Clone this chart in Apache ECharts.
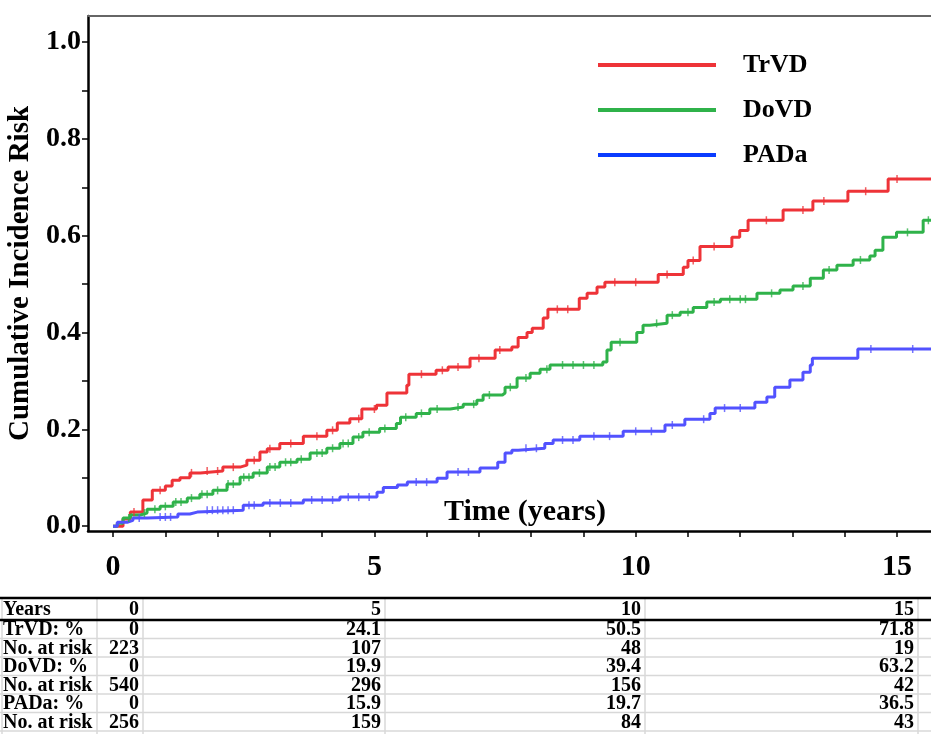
<!DOCTYPE html>
<html>
<head>
<meta charset="utf-8">
<script src="https://cdn.jsdelivr.net/npm/echarts@6/dist/echarts.min.js"></script>
<style>
html,body{margin:0;padding:0;background:#fff;}
#chart{width:931px;height:734px;}
</style>
</head>
<body>
<div id="chart"></div>
<script>
// ---------- data ----------
const seriesNames = ['TrVD', 'DoVD', 'PADa'];

const trvdT = [0, 0.19, 0.33, 0.57, 0.75, 1.0, 1.13, 1.28, 1.47, 1.67, 2.1, 2.43, 2.56, 2.81, 2.95, 3.19, 3.64, 4.09, 4.29, 4.53, 4.76, 5.04, 5.24, 5.62, 5.66, 6.18, 6.41, 6.83, 7.31, 7.63, 7.75, 7.92, 8.02, 8.23, 8.32, 8.92, 9.07, 9.26, 9.41, 10.43, 10.91, 11.0, 11.23, 11.84, 11.99, 12.15, 12.82, 13.39, 14.06, 14.83, 15.65];
const trvdY = [0, 0.015, 0.029, 0.054, 0.074, 0.083, 0.095, 0.100, 0.110, 0.114, 0.122, 0.126, 0.136, 0.153, 0.160, 0.171, 0.186, 0.198, 0.213, 0.222, 0.242, 0.250, 0.275, 0.291, 0.314, 0.322, 0.329, 0.347, 0.364, 0.370, 0.390, 0.400, 0.409, 0.430, 0.448, 0.471, 0.481, 0.494, 0.504, 0.520, 0.535, 0.549, 0.578, 0.597, 0.611, 0.632, 0.653, 0.672, 0.692, 0.717, 0.717];

const dovdT = [0, 0.08, 0.19, 0.33, 0.52, 0.65, 0.9, 1.15, 1.42, 1.66, 1.91, 2.18, 2.43, 2.68, 2.95, 3.19, 3.52, 3.77, 4.09, 4.34, 4.59, 4.78, 5.10, 5.42, 5.5, 5.8, 6.06, 6.45, 6.70, 6.96, 7.08, 7.45, 7.5, 7.73, 7.98, 8.17, 8.36, 9.37, 9.45, 9.53, 10.02, 10.14, 10.27, 10.6, 10.85, 11.1, 11.36, 11.62, 12.32, 12.76, 13.01, 13.34, 13.59, 13.85, 14.16, 14.48, 14.58, 14.73, 14.99, 15.5, 15.65];
const dovdY = [0, 0.006, 0.017, 0.023, 0.027, 0.035, 0.041, 0.050, 0.058, 0.066, 0.074, 0.087, 0.101, 0.110, 0.122, 0.132, 0.138, 0.151, 0.161, 0.171, 0.184, 0.194, 0.202, 0.212, 0.225, 0.233, 0.242, 0.246, 0.252, 0.260, 0.271, 0.275, 0.287, 0.306, 0.316, 0.324, 0.333, 0.339, 0.364, 0.380, 0.400, 0.415, 0.419, 0.436, 0.442, 0.452, 0.463, 0.469, 0.481, 0.488, 0.496, 0.512, 0.529, 0.539, 0.550, 0.558, 0.570, 0.597, 0.607, 0.632, 0.632];

const padaT = [0, 0.08, 0.27, 0.38, 0.65, 1.24, 1.47, 1.61, 2.49, 2.87, 3.64, 4.34, 5.05, 5.17, 5.44, 5.63, 6.2, 6.39, 7.02, 7.36, 7.5, 7.63, 7.75, 8.26, 8.42, 8.93, 9.76, 10.56, 10.94, 11.42, 11.52, 12.28, 12.51, 12.66, 12.95, 13.2, 13.34, 13.38, 14.25, 15.65];
const padaY = [0, 0.008, 0.012, 0.017, 0.019, 0.025, 0.029, 0.033, 0.043, 0.048, 0.054, 0.060, 0.070, 0.080, 0.085, 0.091, 0.099, 0.112, 0.120, 0.132, 0.151, 0.157, 0.161, 0.171, 0.178, 0.186, 0.196, 0.209, 0.221, 0.233, 0.244, 0.256, 0.267, 0.287, 0.302, 0.318, 0.333, 0.347, 0.366, 0.366];

// censoring times (tick marks on the curves)
const trvdCens = [0.4, 0.9, 1.5, 1.8, 2.0, 2.3, 2.7, 3.0, 3.4, 3.9, 4.2, 4.7, 5.0, 5.9, 6.3, 6.6, 7.0, 7.4, 8.5, 8.7, 9.6, 10.0, 10.6, 11.1, 11.5, 12.5, 13.2, 13.6, 14.4, 15.0];
const dovdCens = [0.3, 0.6, 0.8, 1.0, 1.2, 1.3, 1.5, 1.7, 1.8, 2.0, 2.2, 2.3, 2.5, 2.6, 2.8, 3.0, 3.1, 3.3, 3.4, 3.6, 3.9, 4.0, 4.2, 4.4, 4.5, 4.7, 4.9, 5.2, 5.6, 5.9, 6.2, 6.6, 6.9, 7.2, 7.6, 7.9, 8.3, 8.6, 8.8, 9.0, 9.2, 9.7, 10.4, 10.7, 11.0, 11.5, 11.8, 12.0, 12.1, 12.6, 13.2, 13.7, 14.3, 15.2, 15.6];
const padaCens = [0.5, 0.9, 1.0, 1.1, 1.8, 1.9, 2.0, 2.1, 2.2, 2.3, 2.6, 2.7, 3.0, 3.2, 3.4, 3.8, 4.0, 4.2, 4.5, 4.7, 4.9, 5.8, 6.0, 6.6, 6.8, 7.9, 8.1, 8.6, 8.8, 9.2, 9.5, 10.0, 10.3, 10.7, 11.3, 11.7, 12.0, 14.5, 15.3];

const xLabelValues = [0, 5, 10, 15];
const xTickValues = [0,1,2,3,4,5,6,7,8,9,10,11,12,13,14,15];
const yLabelValues = [0, 0.2, 0.4, 0.6, 0.8, 1.0];
const yTickValues = [0, 0.1, 0.2, 0.3, 0.4, 0.5, 0.6, 0.7, 0.8, 0.9, 1.0];

// risk table
const tableYears = ['0', '5', '10', '15'];
const tableLabels = ['TrVD: %', 'No. at risk', 'DoVD: %', 'No. at risk', 'PADa: %', 'No. at risk'];
const trvdPct = ['0', '24.1', '50.5', '71.8'];
const trvdRisk = ['223', '107', '48', '19'];
const dovdPct = ['0', '19.9', '39.4', '63.2'];
const dovdRisk = ['540', '296', '156', '42'];
const padaPct = ['0', '15.9', '19.7', '36.5'];
const padaRisk = ['256', '159', '84', '43'];

// ---------- styles ----------
const RED = '#ee3338', GREEN = '#2fb24a', BLUE = '#5252ff', BLUE_LEG = '#0a3cff';
const FONT = "'Liberation Serif', 'Times New Roman', serif";

function pairs(ts, ys) { return ts.map((t, i) => [t, ys[i]]); }
function stepAt(ts, ys, t) { let v = ys[0]; for (let i = 0; i < ts.length; i++) { if (ts[i] <= t) v = ys[i]; } return v; }
function cens(ts, ys, cs) { return cs.map(c => [c, stepAt(ts, ys, c)]); }

const chart = echarts.init(document.getElementById('chart'), null, {renderer: 'canvas'});

// table graphics
const colEdges = [2, 97, 143, 385, 645, 918];
const rowTop = 620, rowH = 18.5, headTop = 598;
const tableRows = [trvdPct, trvdRisk, dovdPct, dovdRisk, padaPct, padaRisk];
const g = [];
const tFont = {fontFamily: FONT, fontWeight: 'bold', fontSize: 20, fill: '#000'};
for (let i = 1; i <= 6; i++) {
  g.push({type: 'line', shape: {x1: 0, y1: rowTop + rowH * i, x2: 931, y2: rowTop + rowH * i}, style: {stroke: '#d8d8d8', lineWidth: 1.5}});
}
colEdges.forEach(x => g.push({type: 'line', shape: {x1: x, y1: headTop, x2: x, y2: 734}, style: {stroke: '#d8d8d8', lineWidth: 1.5}}));
g.push({type: 'line', shape: {x1: 0, y1: headTop, x2: 931, y2: headTop}, style: {stroke: '#000', lineWidth: 2.5}});
g.push({type: 'line', shape: {x1: 0, y1: rowTop, x2: 931, y2: rowTop}, style: {stroke: '#000', lineWidth: 2.5}});
g.push({type: 'text', x: 3, y: (headTop + rowTop) / 2 + 1, style: Object.assign({text: 'Years', textAlign: 'left', textVerticalAlign: 'middle'}, tFont)});
tableYears.forEach((v, j) => g.push({type: 'text', x: colEdges[j + 2] - 4, y: (headTop + rowTop) / 2 + 1, style: Object.assign({text: v, textAlign: 'right', textVerticalAlign: 'middle'}, tFont)}));
tableRows.forEach((row, i) => {
  const cy = rowTop + rowH * i + rowH / 2 + 1;
  g.push({type: 'text', x: 3, y: cy, style: Object.assign({text: tableLabels[i], textAlign: 'left', textVerticalAlign: 'middle'}, tFont)});
  row.forEach((v, j) => g.push({type: 'text', x: colEdges[j + 2] - 4, y: cy, style: Object.assign({text: v, textAlign: 'right', textVerticalAlign: 'middle'}, tFont)}));
});
g.push({type: 'text', x: 525, y: 512, style: {text: 'Time (years)', textAlign: 'center', textVerticalAlign: 'middle', fontFamily: FONT, fontWeight: 'bold', fontSize: 30, fill: '#000'}});

const lineSeries = (name, ts, ys, color) => ({
  name, type: 'line', step: 'end', data: pairs(ts, ys), showSymbol: false, symbol: 'none',
  lineStyle: {color, width: 3}, itemStyle: {color}, animation: false, z: 3
});
const censSeries = (name, ts, ys, cs, color) => ({
  name: name + ' censored', type: 'scatter', data: cens(ts, ys, cs), symbol: 'rect', symbolSize: [1.5, 8],
  itemStyle: {color}, silent: true, animation: false, z: 4
});

chart.setOption({
  animation: false,
  backgroundColor: '#fff',
  grid: {left: 88, right: 0, top: 16, bottom: 203, containLabel: false, outerBoundsMode: 'none'},
  legend: {
    orient: 'vertical', left: 598, top: 51, padding: 0, itemWidth: 118, itemHeight: 4, itemGap: 17,
    icon: 'rect',
    data: [
      {name: 'TrVD', itemStyle: {color: RED}},
      {name: 'DoVD', itemStyle: {color: GREEN}},
      {name: 'PADa', itemStyle: {color: BLUE_LEG}}
    ],
    textStyle: {fontFamily: FONT, fontWeight: 'bold', fontSize: 26, color: '#000', lineHeight: 28, padding: [0, 0, 0, 22]}
  },
  xAxis: [{
    type: 'value', min: -0.48, max: 15.65, position: 'bottom',
    axisLine: {show: true, onZero: false, lineStyle: {color: '#000', width: 2.5}},
    axisTick: {show: true, customValues: xTickValues, length: 6, lineStyle: {color: '#000', width: 1.5}},
    axisLabel: {customValues: xLabelValues, margin: 21, fontFamily: FONT, fontWeight: 'bold', fontSize: 30, color: '#000'},
    splitLine: {show: false}
  }, {
    type: 'value', min: -0.48, max: 15.65, position: 'top',
    axisLine: {show: true, onZero: false, lineStyle: {color: '#666', width: 2}},
    axisTick: {show: false}, axisLabel: {show: false}, splitLine: {show: false}
  }],
  yAxis: {
    type: 'value', min: -0.01, max: 1.054,
    name: 'Cumulative Incidence Risk', nameLocation: 'middle', nameGap: 50, nameRotate: 90,
    nameTextStyle: {fontFamily: FONT, fontWeight: 'bold', fontSize: 29, color: '#000'},
    axisLine: {show: true, onZero: false, lineStyle: {color: '#000', width: 2.5}},
    axisTick: {show: true, customValues: yTickValues, length: 6, lineStyle: {color: '#000', width: 1.5}},
    axisLabel: {customValues: yLabelValues, margin: 7, formatter: v => v.toFixed(1), fontFamily: FONT, fontWeight: 'bold', fontSize: 28, color: '#000'},
    splitLine: {show: false}
  },
  series: [
    lineSeries('TrVD', trvdT, trvdY, RED),
    lineSeries('DoVD', dovdT, dovdY, GREEN),
    lineSeries('PADa', padaT, padaY, BLUE),
    censSeries('TrVD', trvdT, trvdY, trvdCens, RED),
    censSeries('DoVD', dovdT, dovdY, dovdCens, GREEN),
    censSeries('PADa', padaT, padaY, padaCens, BLUE)
  ],
  graphic: g
});
</script>
</body>
</html>
